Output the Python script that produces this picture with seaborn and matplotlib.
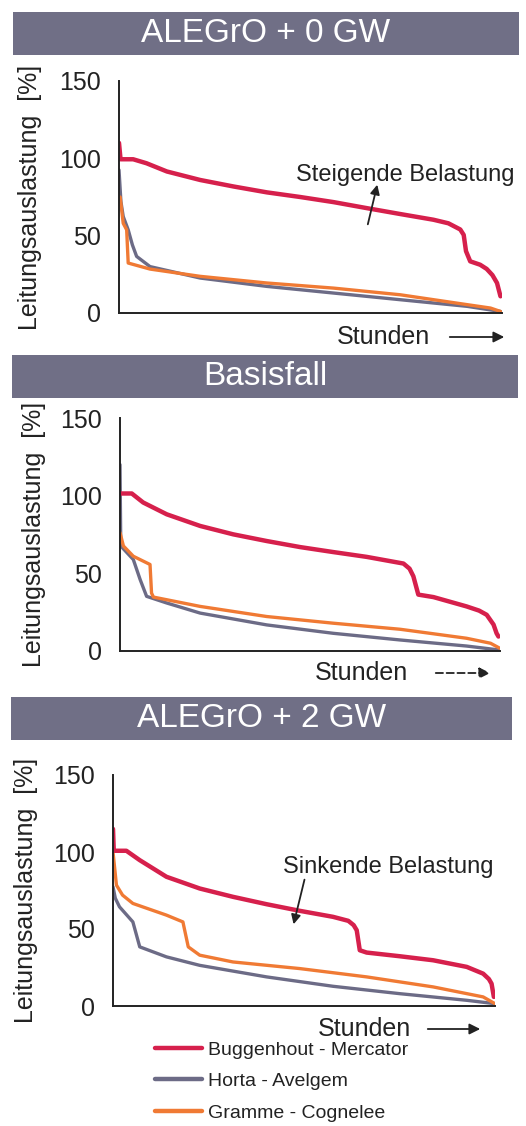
# Jahresdauerlinien der Leitungsauslastung fuer drei ALEGrO-Szenarien
import matplotlib
matplotlib.use("Agg")
import matplotlib.pyplot as plt
from matplotlib.patches import Rectangle, FancyArrowPatch
from matplotlib.lines import Line2D
import seaborn as sns
import pandas as pd

sns.set_theme(style="white")
plt.rcParams["font.family"] = ["Liberation Sans", "DejaVu Sans"]

lines = ["Buggenhout - Mercator", "Horta - Avelgem", "Gramme - Cognelee"]
colors = {"Buggenhout - Mercator": "#d6204c",
          "Horta - Avelgem": "#6c6b86",
          "Gramme - Cognelee": "#f07a34"}
widths = {"Buggenhout - Mercator": 3.2,
          "Horta - Avelgem": 2.4,
          "Gramme - Cognelee": 2.4}

# Anteil der Stunden [%] und Auslastung [%], sortiert (Dauerlinie)
# ALEGrO + 0 GW
p0_red_x = [0, 0.4, 3.7, 7.2, 12.5, 21.2, 29.9, 38.6, 47.3, 56.0, 64.7, 73.4, 82.1, 86.0, 89.1, 90.0, 90.6, 91.7, 94.3, 96.0, 97.5, 98.7, 99.6]
p0_red_y = [110, 99.4, 99.4, 96.8, 91.5, 86, 81.8, 78, 75, 71.7, 67.8, 64, 60.3, 58.0, 54, 50.5, 40.0, 33.4, 31.2, 28.5, 24.5, 19.4, 10.8]
p0_gray_x = [0, 0.5, 1.1, 2.4, 3.5, 4.6, 8.1, 21.2, 38.6, 56.0, 73.4, 90.9, 99.6]
p0_gray_y = [92.5, 72.0, 62.4, 53.8, 44.0, 36.6, 30, 22.6, 17.2, 12.9, 8.6, 4.3, 1]
p0_orange_x = [0, 0.3, 1.1, 2.0, 2.4, 8.1, 21.2, 38.6, 56.0, 73.4, 90.9, 97.0, 99.6]
p0_orange_y = [75, 75, 58, 53.8, 32.3, 28.4, 23.7, 19.4, 16.1, 11.8, 5.4, 3.2, 1]

# Basisfall
p1_red_x = [0, 0.2, 3.1, 6.1, 12.3, 21.1, 29.8, 38.6, 47.4, 56.1, 64.9, 74.6, 76.2, 77.2, 78.5, 82.5, 91.2, 94.5, 96.5, 98.3, 99.1, 99.6]
p1_red_y = [101.4, 101.4, 101.4, 95.6, 88, 80.5, 75.1, 70.8, 66.9, 63.7, 60.6, 56.3, 53.0, 48.1, 36.3, 34.7, 28.7, 26.0, 23.3, 17.0, 11.4, 9.3]
p1_gray_x = [0, 0.2, 3.5, 5.3, 7.0, 12.3, 21.1, 38.6, 56.1, 73.7, 91.2, 100]
p1_gray_y = [120, 67.6, 58.9, 46, 35.2, 30.9, 24.4, 16.8, 11.4, 7.1, 3.2, 0.6]
p1_orange_x = [0, 0.9, 3.5, 7.9, 8.3, 8.8, 12.3, 21.1, 38.6, 56.1, 73.7, 91.2, 97.5, 100]
p1_orange_y = [76.2, 67.6, 61, 55.7, 37.3, 34.7, 33, 28.7, 22.2, 17.9, 14, 8.2, 5.0, 1.7]

# ALEGrO + 2 GW
p2_red_x = [0, 0.2, 3.5, 7.0, 14.0, 22.7, 31.4, 40.2, 48.9, 57.6, 61.6, 63.0, 63.8, 64.6, 66.4, 75.1, 83.8, 92.6, 96.9, 98.4, 99.1, 99.7]
p2_red_y = [115, 100.8, 100.8, 94.7, 83.9, 76.3, 70.9, 66.1, 61.8, 57.9, 55.3, 52.5, 49.2, 36.2, 34.7, 32.3, 29.7, 25.4, 21, 17.5, 14.5, 5.9]
p2_gray_x = [0, 0.6, 1.7, 5.2, 7.0, 14.0, 22.7, 40.2, 57.6, 75.1, 92.6, 100]
p2_gray_y = [77.4, 70.0, 64.4, 54.6, 38.4, 31.9, 26.4, 18.9, 12.8, 8, 3.7, 1.5]
p2_orange_x = [0, 0.9, 2.5, 5.2, 14.0, 18.3, 19.7, 22.7, 31.4, 48.9, 66.4, 83.8, 96.9, 100]
p2_orange_y = [100, 78.5, 72.0, 66.6, 59, 54.6, 38.4, 33, 28.6, 24.3, 18.9, 12.4, 5.9, 1.5]

titles = ["ALEGrO + 0 GW", "Basisfall", "ALEGrO + 2 GW"]
panels = [
    {"Buggenhout - Mercator": (p0_red_x, p0_red_y), "Horta - Avelgem": (p0_gray_x, p0_gray_y),
     "Gramme - Cognelee": (p0_orange_x, p0_orange_y)},
    {"Buggenhout - Mercator": (p1_red_x, p1_red_y), "Horta - Avelgem": (p1_gray_x, p1_gray_y),
     "Gramme - Cognelee": (p1_orange_x, p1_orange_y)},
    {"Buggenhout - Mercator": (p2_red_x, p2_red_y), "Horta - Avelgem": (p2_gray_x, p2_gray_y),
     "Gramme - Cognelee": (p2_orange_x, p2_orange_y)},
]

W, H = 526, 1126
fig = plt.figure(figsize=(W / 100, H / 100), dpi=100)

def fx(px):
    return px / W

def fy(py):
    return 1 - py / H

# pixel layout: axes (left, right, top, bottom), title bar (left, right, top, bottom), label x, Stunden
layout = [
    dict(ax=(119, 502, 81, 313), bar=(13, 519, 12, 55), ylab=30, st_y=337, st_x=(337, 447, 507), dashed=False),
    dict(ax=(120, 500, 418, 651), bar=(12, 518, 355, 398), ylab=34, st_y=673, st_x=(315, 433, 493), dashed=True),
    dict(ax=(113, 495, 775, 1006), bar=(11, 512, 697, 740), ylab=26, st_y=1029, st_x=(318, 425, 483), dashed=False),
]

order = ["Horta - Avelgem", "Gramme - Cognelee", "Buggenhout - Mercator"]

for i, (title, pdata, lay) in enumerate(zip(titles, panels, layout)):
    l, r, t, b = lay["ax"]
    ax = fig.add_axes([fx(l), fy(b), fx(r - l), (b - t) / H])
    rows = []
    for name in lines:
        xs, ys = pdata[name]
        rows += [(name, x, y) for x, y in zip(xs, ys)]
    df = pd.DataFrame(rows, columns=["Leitung", "Stunden", "Auslastung"])
    for name in order:
        sns.lineplot(data=df[df["Leitung"] == name], x="Stunden", y="Auslastung",
                     color=colors[name], linewidth=widths[name], estimator=None,
                     sort=False, ax=ax, solid_joinstyle="round", solid_capstyle="round")
    ax.set_xlim(0, 100)
    ax.set_ylim(0, 150)
    ax.set_yticks([0, 50, 100, 150])
    ax.set_xticks([])
    ax.tick_params(axis="y", length=0, pad=13, labelsize=18, labelcolor="#222222")
    for s in ["top", "right"]:
        ax.spines[s].set_visible(False)
    for s in ["left", "bottom"]:
        ax.spines[s].set_color("#222222")
        ax.spines[s].set_linewidth(1.4)
    ax.set_xlabel("")
    ax.set_ylabel("Leitungsauslastung  [%]", fontsize=18, color="#222222")
    ax.yaxis.label.set_va("center")
    ax.yaxis.set_label_coords((lay["ylab"] - l) / (r - l), 0.5)
    ax.patch.set_alpha(0)

    # Titelbalken
    bl, br, bt, bb = lay["bar"]
    fig.patches.append(Rectangle((fx(bl), fy(bb)), fx(br - bl), (bb - bt) / H,
                                 transform=fig.transFigure, facecolor="#706f86",
                                 edgecolor="none", zorder=0))
    fig.text(fx((bl + br) / 2), fy((bt + bb) / 2), title, color="white", fontsize=24,
             ha="center", va="center")

    # Stunden mit Pfeil
    sx, a0, a1 = lay["st_x"]
    fig.text(fx(sx), fy(lay["st_y"]), "Stunden", fontsize=18, color="#222222",
             ha="left", va="center")
    fig.add_artist(FancyArrowPatch(
        (fx(a0), fy(lay["st_y"])), (fx(a1), fy(lay["st_y"])), transform=fig.transFigure,
        arrowstyle="-|>", mutation_scale=16, color="#222222", lw=1.3,
        linestyle=(0, (4, 2)) if lay["dashed"] else "-"))

    if i == 0:
        ax.text(74.7, 89.2, "Steigende Belastung", fontsize=17, color="#222222",
                ha="center", va="center", clip_on=False)
        ax.annotate("", xy=(67.6, 84.7), xytext=(64.8, 55.6),
                    arrowprops=dict(arrowstyle="-|>", color="#222222", lw=1.3, mutation_scale=14))
    if i == 2:
        ax.text(72, 90.3, "Sinkende Belastung", fontsize=17, color="#222222",
                ha="center", va="center", clip_on=False)
        ax.annotate("", xy=(47.1, 51.3), xytext=(50.3, 83.8),
                    arrowprops=dict(arrowstyle="-|>", color="#222222", lw=1.3, mutation_scale=14))

handles = [Line2D([0], [0], color=colors[n], lw=3.2) for n in lines]
fig.legend(handles, lines, loc="upper left", bbox_to_anchor=(fx(155), fy(1041)),
           frameon=False, fontsize=14, handlelength=2.4, handletextpad=0.3,
           labelspacing=0.72, borderpad=0, borderaxespad=0, labelcolor="#222222")

fig.savefig("out.png", dpi=100, facecolor="white")
